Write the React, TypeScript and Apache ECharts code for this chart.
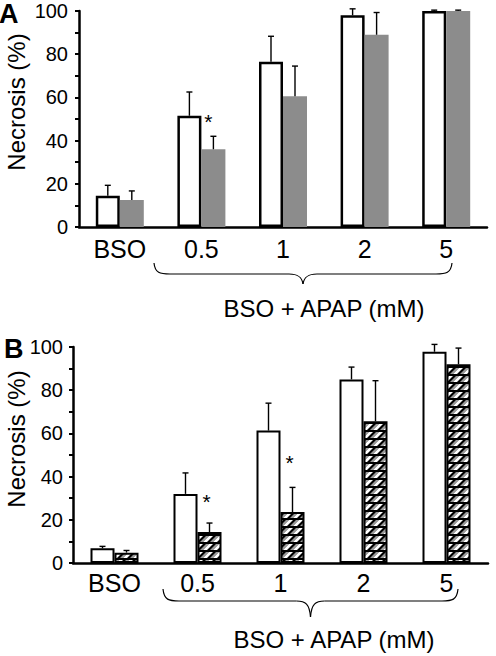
import React, { useEffect, useRef } from "react";
import * as echarts from "echarts";

const categories = ["BSO", "0.5", "1", "2", "5"];
const yTicks = [0, 20, 40, 60, 80, 100];

// Panel A
const aWhite = [14.5, 51.5, 76.5, 98, 100];
const aWhiteErr = [19.3, 62.5, 88.3, 101, 100.4];
const aGray = [12.5, 36, 60.5, 89, 100];
const aGrayErr = [16.7, 42, 74.5, 99.3, 100.4];
const aStars = [null, 49, null, null, null];

// Panel B
const bWhite = [6.8, 32, 61.3, 85, 97.8];
const bWhiteErr = [7.7, 41.7, 74, 90.7, 101.2];
const bHatch = [4.8, 14.3, 23.6, 65.6, 92];
const bHatchErr = [5.8, 18.5, 35, 84.4, 99.5];
const bStars = [null, 28.5, 46.5, null, null];

const xTitle = "BSO + APAP (mM)";
const yTitle = "Necrosis (%)";

const FONT = "Liberation Sans, Arial, sans-serif";
const BAR_W = 24;

function makeHatch(): string {
  const c = document.createElement("canvas");
  c.width = 10;
  c.height = 8;
  const ctx = c.getContext("2d")!;
  ctx.fillStyle = "#000";
  ctx.fillRect(0, 0, 10, 8);
  for (const o of [-10, 0, 10]) {
    ctx.fillStyle = "#9a9a9a";
    ctx.beginPath();
    ctx.moveTo(o + 0, 6);
    ctx.lineTo(o + 3, 6);
    ctx.lineTo(o + 9, 0);
    ctx.lineTo(o + 6, 0);
    ctx.closePath();
    ctx.fill();
    ctx.fillStyle = "#fff";
    ctx.beginPath();
    ctx.moveTo(o + 3, 6);
    ctx.lineTo(o + 7, 6);
    ctx.lineTo(o + 13, 0);
    ctx.lineTo(o + 9, 0);
    ctx.closePath();
    ctx.fill();
  }
  return c.toDataURL();
}

function errSeries(grid: number, vals: number[], errs: number[], offset: number) {
  return {
    type: "custom",
    xAxisIndex: grid,
    yAxisIndex: grid,
    z: 5,
    data: vals.map((v, i) => [i, v, errs[i]]),
    encode: { x: 0, y: 1 },
    renderItem: (params: any, api: any) => {
      const i = api.value(0);
      const p0 = api.coord([i, api.value(1)]);
      const p1 = api.coord([i, api.value(2)]);
      const x = p0[0] + offset;
      return {
        type: "group",
        children: [
          { type: "line", shape: { x1: x, y1: p0[1], x2: x, y2: p1[1] }, style: { stroke: "#000", lineWidth: 1.4 } },
          { type: "line", shape: { x1: x - 3, y1: p1[1], x2: x + 3, y2: p1[1] }, style: { stroke: "#000", lineWidth: 1.4 } },
        ],
      };
    },
  };
}

function starSeries(grid: number, stars: (number | null)[], offset: number) {
  return {
    type: "custom",
    xAxisIndex: grid,
    yAxisIndex: grid,
    z: 6,
    data: stars.map((v, i) => (v == null ? null : [i, v])).filter((d) => d != null),
    encode: { x: 0, y: 1 },
    renderItem: (params: any, api: any) => {
      const p = api.coord([api.value(0), api.value(1)]);
      return {
        type: "text",
        style: {
          text: "*",
          x: p[0] + offset,
          y: p[1],
          align: "center",
          verticalAlign: "middle",
          fontSize: 21,
          fontFamily: FONT,
          fill: "#000",
        },
      };
    },
  };
}

function brace(x1: number, x2: number, yEnd: number, yMid: number, yTip: number) {
  const xc = (x1 + x2) / 2;
  const st = { stroke: "#000", lineWidth: 1.2, fill: null };
  return [
    { type: "bezierCurve", shape: { x1, y1: yEnd, cpx1: x1 + 1, cpy1: yMid - 1, cpx2: x1 + 6, cpy2: yMid, x2: x1 + 16, y2: yMid }, style: st },
    { type: "line", shape: { x1: x1 + 16, y1: yMid, x2: xc - 14, y2: yMid }, style: st },
    { type: "bezierCurve", shape: { x1: xc - 14, y1: yMid, cpx1: xc - 5, cpy1: yMid, cpx2: xc - 1, cpy2: yMid + 3, x2: xc, y2: yTip }, style: st },
    { type: "bezierCurve", shape: { x1: xc, y1: yTip, cpx1: xc + 1, cpy1: yMid + 3, cpx2: xc + 5, cpy2: yMid, x2: xc + 14, y2: yMid }, style: st },
    { type: "line", shape: { x1: xc + 14, y1: yMid, x2: x2 - 16, y2: yMid }, style: st },
    { type: "bezierCurve", shape: { x1: x2 - 16, y1: yMid, cpx1: x2 - 6, cpy1: yMid, cpx2: x2 - 1, cpy2: yMid - 1, x2, y2: yEnd }, style: st },
  ];
}

function xAxis(grid: number, margin: number) {
  return {
    type: "category",
    gridIndex: grid,
    data: categories,
    axisLine: { show: true, lineStyle: { color: "#000", width: 2.5 } },
    axisTick: { show: false },
    axisLabel: { color: "#000", fontSize: 25, fontFamily: FONT, margin },
  };
}

function yAxis(grid: number, labelMargin: number) {
  return {
    type: "value",
    gridIndex: grid,
    min: yTicks[0],
    max: yTicks[yTicks.length - 1],
    interval: 20,
    axisLine: { show: true, lineStyle: { color: "#000", width: 2.5 } },
    axisTick: { show: true, length: 4, lineStyle: { color: "#000", width: 2 } },
    minorTick: { show: true, splitNumber: 2, length: 4, lineStyle: { color: "#000", width: 2 } },
    splitLine: { show: false },
    axisLabel: { color: "#000", fontSize: 20, fontFamily: FONT, margin: labelMargin },
  };
}

function yTitleText(x: number, y: number) {
  return {
    type: "text",
    x,
    y,
    rotation: Math.PI / 2,
    style: { text: yTitle, fontSize: 24, fontFamily: FONT, fill: "#000", align: "center", verticalAlign: "middle" },
  };
}

export default function App() {
  const ref = useRef<HTMLDivElement>(null);
  useEffect(() => {
    if (!ref.current) return;
    const chart = echarts.init(ref.current, null, { renderer: "svg" });
    const hatch = makeHatch();
    const option: any = {
      animation: false,
      backgroundColor: "#fff",
      grid: [
        { left: 79, top: 11, width: 408, height: 216, containLabel: false, outerBoundsMode: "none" },
        { left: 73, top: 347, width: 415, height: 216, containLabel: false, outerBoundsMode: "none" },
      ],
      xAxis: [xAxis(0, 9), xAxis(1, 7)],
      yAxis: [yAxis(0, 11), yAxis(1, 10)],
      series: [
        {
          type: "bar",
          xAxisIndex: 0,
          yAxisIndex: 0,
          data: aWhite,
          barWidth: BAR_W,
          barGap: "0%",
          itemStyle: { color: "#fff", borderColor: "#000", borderWidth: 2.5 },
        },
        {
          type: "bar",
          xAxisIndex: 0,
          yAxisIndex: 0,
          data: aGray,
          barWidth: BAR_W,
          barGap: "0%",
          itemStyle: { color: "#8c8c8c", borderWidth: 0 },
        },
        {
          type: "bar",
          xAxisIndex: 1,
          yAxisIndex: 1,
          data: bWhite,
          barWidth: BAR_W,
          barGap: "0%",
          itemStyle: { color: "#fff", borderColor: "#000", borderWidth: 2 },
        },
        {
          type: "bar",
          xAxisIndex: 1,
          yAxisIndex: 1,
          data: bHatch,
          barWidth: BAR_W,
          barGap: "0%",
          itemStyle: {
            color: { image: hatch, repeat: "repeat", imageWidth: 10, imageHeight: 8 },
            borderColor: "#000",
            borderWidth: 2,
          },
        },
        errSeries(0, aWhite, aWhiteErr, -BAR_W / 2),
        errSeries(0, aGray, aGrayErr, BAR_W / 2),
        errSeries(1, bWhite, bWhiteErr, -BAR_W / 2),
        errSeries(1, bHatch, bHatchErr, BAR_W / 2),
        starSeries(0, aStars, BAR_W / 2 - 5),
        starSeries(1, bStars, BAR_W / 2 - 3),
      ],
      graphic: [
        { type: "text", left: -1, top: 0, style: { text: "A", fontSize: 27, fontWeight: "bold", fontFamily: FONT, fill: "#000" } },
        { type: "text", left: 4, top: 335, style: { text: "B", fontSize: 27, fontWeight: "bold", fontFamily: FONT, fill: "#000" } },
        yTitleText(16, 102),
        yTitleText(16, 439),
        ...brace(154, 452, 263, 274, 284),
        ...brace(163, 458, 589, 601, 617),
        {
          type: "text",
          x: 324,
          y: 308,
          style: { text: xTitle, fontSize: 24, fontFamily: FONT, fill: "#000", align: "center", verticalAlign: "middle" },
        },
        {
          type: "text",
          x: 334,
          y: 639,
          style: { text: xTitle, fontSize: 24, fontFamily: FONT, fill: "#000", align: "center", verticalAlign: "middle" },
        },
      ],
    };
    chart.setOption(option);
    return () => chart.dispose();
  }, []);
  return (
    <div
      ref={ref}
      style={{ position: "fixed", left: 0, top: 0, width: 496, height: 656, background: "#fff" }}
    />
  );
}
